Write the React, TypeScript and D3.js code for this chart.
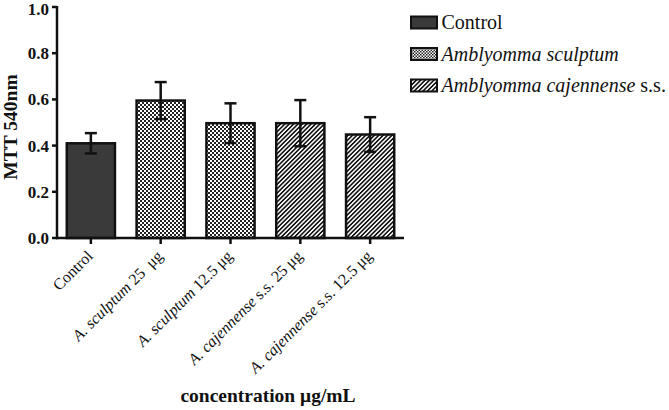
import React from "react";
import * as d3 from "d3";

const categories = ["Control", "A. sculptum 25  μg", "A. sculptum 12.5 μg", "A. cajennense s.s. 25 μg", "A. cajennense s.s. 12.5 μg"];
const labelItalic = ["", "A. sculptum", "A. sculptum", "A. cajennense", "A. cajennense"];
const labelRest = ["Control", " 25  μg", " 12.5 μg", " s.s. 25 μg", " s.s. 12.5 μg"];
const groups = ["control", "sculptum", "sculptum", "cajennense", "cajennense"];
const means = [0.41, 0.595, 0.497, 0.497, 0.448];
const errors = [0.044, 0.08, 0.086, 0.1, 0.075];
const yTicks = [0, 0.2, 0.4, 0.6, 0.8, 1.0];
const legendItems = [
  { key: "control", italic: "", rest: "Control" },
  { key: "sculptum", italic: "Amblyomma sculptum", rest: "" },
  { key: "cajennense", italic: "Amblyomma cajennense", rest: " s.s." },
];

const W = 669, H = 410;
const x0 = 57, x1 = 404, yTop = 7, yBot = 238;
const serif = "'Liberation Serif', 'Times New Roman', serif";

const fillFor = (g: string) =>
  g === "control" ? "#3a3a3a" : g === "sculptum" ? "url(#checker)" : "url(#hatch)";

export default function App() {
  const x = d3.scaleBand<string>().domain(categories).range([x0, x1]).paddingInner(0.31).paddingOuter(0.14);
  const y = d3.scaleLinear().domain([0, 1]).range([yBot, yTop]);
  const bw = x.bandwidth();
  return (
    <svg width={W} height={H} style={{ position: "absolute", left: 0, top: 0, background: "#fff" }}>
      <defs>
        <pattern id="checker" width={4} height={4} patternUnits="userSpaceOnUse">
          <rect width={4} height={4} fill="#fff" />
          <rect width={2} height={2} fill="#222" />
          <rect x={2} y={2} width={2} height={2} fill="#222" />
        </pattern>
        <pattern id="hatch" width={3.1} height={3.1} patternUnits="userSpaceOnUse" patternTransform="rotate(45)">
          <rect width={3.1} height={3.1} fill="#fff" />
          <rect width={1.6} height={3.1} fill="#111" />
        </pattern>
        <pattern id="checkerL" width={3} height={3} patternUnits="userSpaceOnUse">
          <rect width={3} height={3} fill="#fff" />
          <rect width={1.5} height={1.5} fill="#222" />
          <rect x={1.5} y={1.5} width={1.5} height={1.5} fill="#222" />
        </pattern>
      </defs>

      {/* bars */}
      {categories.map((c, i) => (
        <rect key={c} x={x(c)!} y={y(means[i])} width={bw} height={yBot - y(means[i])}
          fill={fillFor(groups[i])} stroke="#111" strokeWidth={2.5} />
      ))}
      {/* error bars */}
      {categories.map((c, i) => {
        const cx = x(c)! + bw / 2;
        const top = y(means[i] + errors[i]);
        const bot = y(means[i] - errors[i]);
        return (
          <g key={"e" + c} stroke="#111" strokeWidth={2.5}>
            <line x1={cx} x2={cx} y1={top} y2={bot} />
            <line x1={cx - 6} x2={cx + 6} y1={top} y2={top} />
            <line x1={cx - 6} x2={cx + 6} y1={bot} y2={bot} />
          </g>
        );
      })}

      {/* y axis */}
      <line x1={x0} x2={x0} y1={yTop - 1} y2={yBot + 1.2} stroke="#111" strokeWidth={2.5} />
      {yTicks.map((t) => (
        <g key={t}>
          <line x1={x0 - 5} x2={x0} y1={y(t)} y2={y(t)} stroke="#111" strokeWidth={2.5} />
          <text x={x0 - 8} y={Math.max(y(t), 9.5)} dy="0.35em" textAnchor="end" fontFamily={serif} fontWeight="bold" fontSize={17} fill="#111">
            {d3.format(".1f")(t)}
          </text>
        </g>
      ))}
      <text transform={`translate(17,127) rotate(-90)`} textAnchor="middle" fontFamily={serif} fontWeight="bold" fontSize={19.5} fill="#111">
        MTT 540nm
      </text>

      {/* x axis */}
      <line x1={x0 - 1} x2={x1} y1={yBot} y2={yBot} stroke="#111" strokeWidth={2.5} />
      {categories.map((c, i) => {
        const cx = x(c)! + bw / 2;
        return (
          <g key={"t" + c}>
            <line x1={cx} x2={cx} y1={yBot} y2={yBot + 6} stroke="#111" strokeWidth={2.5} />
            <text transform={`translate(${cx + 3},${yBot + 19}) rotate(-45)`} textAnchor="end" fontFamily={serif} fontSize={16} fill="#111">
              {labelItalic[i] && <tspan fontStyle="italic">{labelItalic[i]}</tspan>}
              <tspan style={{ whiteSpace: "pre" }}>{labelRest[i]}</tspan>
            </text>
          </g>
        );
      })}
      <text x={268} y={402} textAnchor="middle" fontFamily={serif} fontWeight="bold" fontSize={19.5} fill="#111">
        concentration μg/mL
      </text>

      {/* legend */}
      {legendItems.map((l, i) => {
        const ly = 16.5 + i * 31.5;
        return (
          <g key={l.key}>
            <rect x={411} y={ly} width={26} height={12} fill={l.key === "sculptum" ? "url(#checkerL)" : fillFor(l.key)} stroke="#111" strokeWidth={2} />
            <text x={441.5} y={ly + 12.5} fontFamily={serif} fontSize={20} fill="#111">
              {l.italic && <tspan fontStyle="italic">{l.italic}</tspan>}
              {l.rest && <tspan>{l.rest}</tspan>}
            </text>
          </g>
        );
      })}
    </svg>
  );
}
